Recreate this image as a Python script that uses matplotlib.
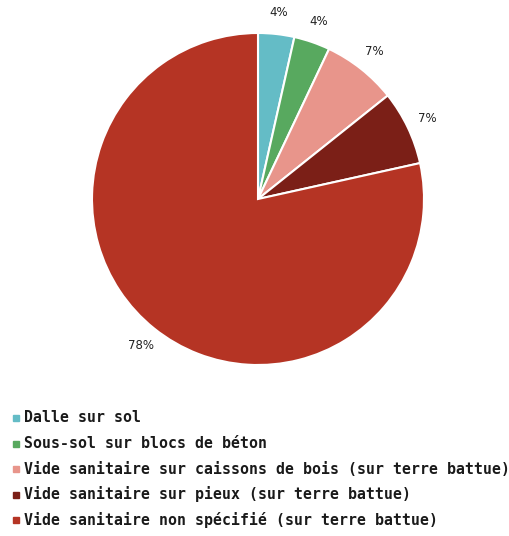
import matplotlib
matplotlib.use("Agg")
import matplotlib.pyplot as plt
from matplotlib.lines import Line2D

categories = [
    "Dalle sur sol",
    "Sous-sol sur blocs de béton",
    "Vide sanitaire sur caissons de bois (sur terre battue)",
    "Vide sanitaire sur pieux (sur terre battue)",
    "Vide sanitaire non spécifié (sur terre battue)",
]
values = [3.5, 3.5, 7.2, 7.2, 78.0]
pct_labels = ["4%", "4%", "7%", "7%", "78%"]
colors = ["#64bcc6", "#58a95f", "#e8958b", "#7b1f17", "#b53424"]

W, H = 510, 536
fig = plt.figure(figsize=(W / 100, H / 100), dpi=100)

cx, cy, r = 258, 199, 166
ax = fig.add_axes([(cx - r) / W, 1 - (cy + r) / H, 2 * r / W, 2 * r / H])

wedges, texts = ax.pie(
    values, colors=colors, startangle=90, counterclock=False, radius=1,
    labels=pct_labels,
    labeldistance=1.13,
    wedgeprops=dict(edgecolor="white", linewidth=1.5),
    textprops=dict(fontsize=8.5, color="#222222", family="DejaVu Sans"),
)
for t in texts:
    t.set_horizontalalignment("center")
    t.set_verticalalignment("center")
ax.set_xlim(-1, 1)
ax.set_ylim(-1, 1)
ax.set_aspect("equal")
ax.axis("off")

# legend
y0 = 418
dy = 25.5
for i, (lab, col) in enumerate(zip(categories, colors)):
    y = 1 - (y0 + i * dy) / H
    fig.add_artist(Line2D([16 / W], [y], marker="s", markersize=5, color=col,
                          linestyle="none", transform=fig.transFigure))
    fig.text(24 / W, y, lab, fontsize=10.7, family="DejaVu Sans Mono",
             fontweight="bold", va="center", ha="left", color="#1a1a1a")

fig.savefig("out.png", dpi=100)
